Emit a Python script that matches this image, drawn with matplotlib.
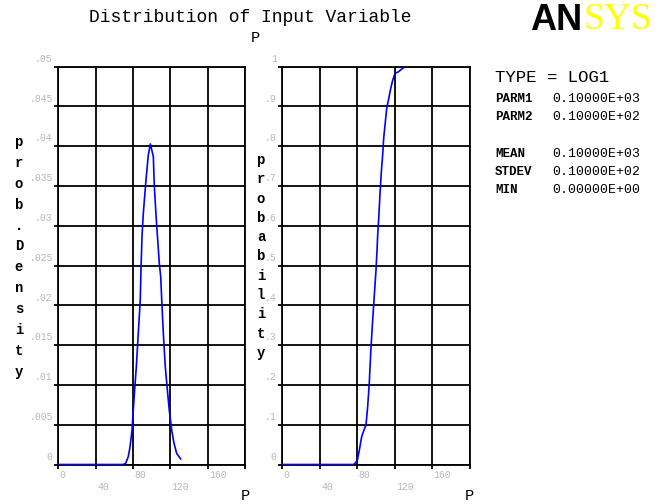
import numpy as np
import matplotlib.pyplot as plt

# --- valores ---

dens_x = [0, 69.6, 72.2, 75.0, 76.8, 79.0, 80.3, 81.8, 83.6, 85.7, 87.8, 88.6,
          89.7, 91.1, 93.6, 96.4, 98.6, 101.8, 102.8, 104.7, 106.5, 108.2, 109.7,
          110.8, 112.5, 114.6, 116.8, 118.9, 121.5, 123.9, 126.8, 131.1]
dens_y = [0, 0, 0.00015, 0.0010, 0.0022, 0.0043, 0.0068, 0.0094, 0.0123, 0.0165,
          0.0207, 0.0246, 0.0288, 0.0316, 0.0353, 0.0389, 0.0403, 0.0387, 0.0351,
          0.0313, 0.0282, 0.0253, 0.0236, 0.0207, 0.0165, 0.0123, 0.0094, 0.0068,
          0.0043, 0.0027, 0.0014, 0.0007]

cdf_x = [0, 76.0, 77.6, 80.1, 82.2, 84.7, 87.2, 89.3, 91.1, 92.8, 94.7, 96.0, 97.5,
         98.6, 100.0, 101.1, 101.8, 102.9, 104.2, 105.7, 107.1, 108.2, 109.6,
         111.4, 113.6, 115.7, 117.8, 120.3, 123.8, 127.4, 129.9]
cdf_y = [0, 0, 0.003, 0.011, 0.036, 0.070, 0.087, 0.099, 0.145, 0.204, 0.296,
         0.346, 0.401, 0.439, 0.489, 0.539, 0.577, 0.619, 0.677, 0.736, 0.778,
         0.820, 0.853, 0.895, 0.920, 0.945, 0.966, 0.983, 0.987, 0.994, 0.998]

x_ticks = [0, 40, 80, 120, 160, 200]
x_labels = ["0", "40", "80", "120", "160", ""]
dens_ticks = [0, 0.005, 0.01, 0.015, 0.02, 0.025, 0.03, 0.035, 0.04, 0.045, 0.05]
dens_labels = ["0", ".005", ".01", ".015", ".02", ".025", ".03", ".035", ".04", ".045", ".05"]
cdf_ticks = [0, 0.1, 0.2, 0.3, 0.4, 0.5, 0.6, 0.7, 0.8, 0.9, 1.0]
cdf_labels = ["0", ".1", ".2", ".3", ".4", ".5", ".6", ".7", ".8", ".9", "1"]

info_names = ["PARM1", "PARM2", "", "MEAN", "STDEV", "MIN"]
info_values = ["0.10000E+03", "0.10000E+02", "", "0.10000E+03", "0.10000E+02", "0.00000E+00"]

MONO = "Liberation Mono"
W, H = 659, 504

fig = plt.figure(figsize=(6.59, 5.04), dpi=100)


def fx(px):
    return px / W


def fy(py):
    return 1 - py / H


def setup_ax(ax, yticks, ylabels, ymax):
    ax.set_xlim(0, 200)
    ax.set_ylim(0, ymax)
    ax.set_xticks(x_ticks)
    ax.set_yticks(yticks)
    ax.set_xticklabels([])
    ax.set_yticklabels([])
    ax.grid(True, color="black", lw=1.3)
    ax.tick_params(axis="both", length=3, width=1.3, color="black")
    for s in ax.spines.values():
        s.set_linewidth(1.3)
    # rótulos do eixo y (cinza, acima da linha)
    for v, lab in zip(yticks, ylabels):
        ax.annotate(lab, (0, v), xycoords="data", xytext=(-4, 2),
                    textcoords="offset points", ha="right", va="bottom",
                    fontsize=7, family=MONO, color="#b8b8b8")
    # rótulos do eixo x alternados
    for i, (v, lab) in enumerate(zip(x_ticks, x_labels)):
        dy = -4 if i % 2 == 0 else -12.5
        ax.annotate(lab, (v, 0), xycoords="data", xytext=(1, dy),
                    textcoords="offset points", ha="left", va="top",
                    fontsize=7, family=MONO, color="#b8b8b8")


ax1 = fig.add_axes([fx(58.3), fy(464.5), fx(245 - 58.3), (464.5 - 66.7) / H])
ax1.plot(dens_x, dens_y, color="blue", lw=1.2, zorder=3)
setup_ax(ax1, dens_ticks, dens_labels, 0.05)

ax2 = fig.add_axes([fx(282.3), fy(464.5), fx(469.7 - 282.3), (464.5 - 66.7) / H])
ax2.plot(cdf_x, cdf_y, color="blue", lw=1.2, zorder=3)
setup_ax(ax2, cdf_ticks, cdf_labels, 1.0)

# títulos
fig.text(fx(250), fy(18), "Distribution of Input Variable", ha="center", va="center",
         fontsize=13, family=MONO)
fig.text(fx(255), fy(38), "P", ha="center", va="center", fontsize=11, family=MONO)
fig.text(fx(245), fy(496), "P", ha="center", va="center", fontsize=11, family=MONO)
fig.text(fx(469), fy(496), "P", ha="center", va="center", fontsize=11, family=MONO)

# rótulos verticais letra a letra
for i, ch in enumerate("prob. Density".replace(" ", "")):
    fig.text(fx(19), fy(142 + i * 20.9), ch, ha="center", va="center",
             fontsize=10, family=MONO, fontweight="bold")
for i, ch in enumerate("probability"):
    fig.text(fx(261), fy(160 + i * 19.3), ch, ha="center", va="center",
             fontsize=10, family=MONO, fontweight="bold")

# logotipo
fig.text(fx(582), fy(20), "AN", ha="right", va="center", fontsize=26,
         family="Liberation Sans", fontweight="bold", color="black")
fig.text(fx(583), fy(20), "SYS", ha="left", va="center", fontsize=27,
         family="Liberation Serif", color="#ffff00")

# bloco de informações
fig.text(fx(495), fy(78), "TYPE = LOG1", ha="left", va="center", fontsize=12.5, family=MONO)
rows_y = [99, 117, 135, 154, 172, 190]
for ry, name, val in zip(rows_y, info_names, info_values):
    fig.text(fx(495), fy(ry), name, ha="left", va="center", fontsize=9,
             family=MONO, fontweight="bold")
    fig.text(fx(552), fy(ry), val, ha="left", va="center", fontsize=9.5, family=MONO)

fig.savefig("out.png", dpi=100)
